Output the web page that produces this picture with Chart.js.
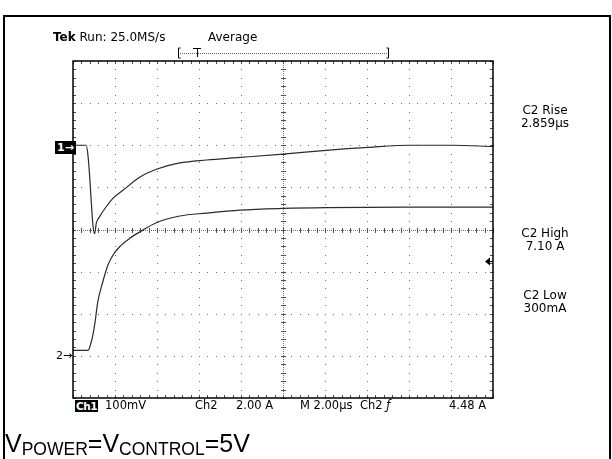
<!DOCTYPE html>
<html>
<head>
<meta charset="utf-8">
<script src="https://cdn.jsdelivr.net/npm/chart.js@4.4.0/dist/chart.umd.min.js"></script>
<style>
  body { margin: 0; background: #fff; }
  #wrap { position: relative; width: 612px; height: 459px; overflow: hidden; font-family: "DejaVu Sans", sans-serif; color: #000; }
  #scope { position: absolute; left: 0; top: 0; }
  .frame { position: absolute; left: 3px; top: 15px; width: 604px; height: 470px; border: 2px solid #000; }
  .t { position: absolute; white-space: nowrap; line-height: 1; font-size: 11.5px; }
  .meas { position: absolute; width: 72px; text-align: center; font-size: 12px; line-height: 13px; }
  .inv { background: #000; color: #fff; font-weight: bold; padding: 0 2px; }
  .caption { position: absolute; left: 5px; top: 429px; font-family: "Liberation Sans", Arial, sans-serif; font-size: 25px; white-space: nowrap; }
  .caption sub { font-size: 17.5px; vertical-align: -3px; }
</style>
</head>
<body>
<div id="wrap">
  <div class="frame"></div>
  <canvas id="scope" width="612" height="459"></canvas>

  <div class="t" style="left:53px;top:31px;font-size:12px;"><b>Tek</b> Run: 25.0MS/s</div>
  <div class="t" style="left:208px;top:31px;font-size:12px;">Average</div>

  <div class="t inv" style="left:55px;top:141px;font-size:11px;padding:1px 2px;">1&#8594;</div>
  <div class="t" style="left:56px;top:350px;font-size:11px;">2&#8594;</div>

  <div class="meas" style="left:509px;top:104px;">C2 Rise<br>2.859&micro;s</div>
  <div class="meas" style="left:509px;top:227px;">C2 High<br>7.10 A</div>
  <div class="meas" style="left:509px;top:289px;">C2 Low<br>300mA</div>

  <div class="t inv" style="left:75px;top:400px;font-size:10.5px;padding:1px 1px 0 1px;letter-spacing:-0.5px;">Ch1</div>
  <div class="t" style="left:105px;top:400px;">100mV</div>
  <div class="t" style="left:195px;top:400px;">Ch2</div>
  <div class="t" style="left:236px;top:400px;">2.00 A</div>
  <div class="t" style="left:300px;top:400px;">M 2.00&micro;s</div>
  <div class="t" style="left:360px;top:400px;">Ch2 <i>&#402;</i></div>
  <div class="t" style="left:449px;top:400px;">4.48 A</div>

  <div class="caption">V<sub>POWER</sub>=V<sub>CONTROL</sub>=5V</div>
</div>

<script>
// Time base 2.00µs/div, 10 divisions
const ch1Time = [0, 0.63, 0.71, 0.79, 0.87, 0.95, 1.03, 1.11, 1.26, 1.58, 1.90, 2.38, 3.17, 3.97, 5.08, 6.36, 7.95, 10.0, 12.05, 14.06, 16.07, 18.06, 20];
// Ch1 in mV relative to its marker (100mV/div)
const ch1mV = [0, 0, -23, -71, -134, -190, -210, -185, -170, -146, -126, -107, -76, -57, -42, -35, -29, -21, -12, -5, 0, 0, -3];

const ch2Time = [0, 0.71, 0.87, 1.03, 1.18, 1.42, 1.66, 1.90, 2.22, 2.70, 3.17, 3.97, 5.08, 6.36, 7.95, 10.0, 12.05, 16.07, 20];
// Ch2 current in A (2.00 A/div)
const ch2Amp = [0.26, 0.26, 0.66, 1.46, 2.56, 3.52, 4.30, 4.78, 5.18, 5.58, 5.88, 6.32, 6.64, 6.78, 6.92, 7.00, 7.04, 7.06, 7.06];

const triggerLevel = 4.48; // A

function toPoints(xs, ys) {
  return xs.map((v, i) => ({ x: v, y: ys[i] }));
}

// Draws the scope graticule, frame, trigger arrow and record bracket
const graticule = {
  id: 'graticule',
  beforeDatasetsDraw(chart) {
    const { ctx, chartArea: a, scales } = chart;
    const x = scales.x, y = scales.y;
    const xMinor = [], yMinor = [];
    for (let i = 0; i <= 50; i++) xMinor.push(Math.round(x.getPixelForValue(i * 0.4)));
    for (let j = 0; j <= 40; j++) yMinor.push(Math.round(y.getPixelForValue(-4 + j * 0.2)));

    ctx.save();
    ctx.fillStyle = '#707070';
    for (let i = 1; i < 10; i++) {
      if (i === 5) continue;
      const px = Math.round(x.getPixelForValue(i * 2));
      yMinor.forEach(py => ctx.fillRect(px, py, 1, 1));
    }
    for (let j = 1; j < 8; j++) {
      if (j === 4) continue;
      const py = Math.round(y.getPixelForValue(-4 + j));
      xMinor.forEach(px => ctx.fillRect(px, py, 1, 1));
    }

    // centre cross
    const cx = Math.round(x.getPixelForValue(10));
    const cy = Math.round(y.getPixelForValue(0));
    for (let py = a.top; py < a.bottom; py += 2) ctx.fillRect(cx, py, 1, 1);
    for (let px = a.left; px < a.right; px += 2) ctx.fillRect(px, cy, 1, 1);
    ctx.fillStyle = '#505050';
    yMinor.forEach(py => ctx.fillRect(cx - 2, py, 5, 1));
    xMinor.forEach(px => ctx.fillRect(px, cy - 2, 1, 5));

    // edge ticks
    xMinor.forEach(px => {
      ctx.fillRect(px, a.top, 1, 3);
      ctx.fillRect(px, a.bottom - 3, 1, 3);
    });
    yMinor.forEach(py => {
      ctx.fillRect(a.left, py, 3, 1);
      ctx.fillRect(a.right - 3, py, 3, 1);
    });
    ctx.restore();
  },
  afterDraw(chart) {
    const { ctx, chartArea: a, scales } = chart;
    ctx.save();
    ctx.strokeStyle = '#000';
    ctx.lineWidth = 1.5;
    ctx.strokeRect(a.left, a.top, a.right - a.left, a.bottom - a.top);

    // trigger level arrow
    const ty = scales.yCh2.getPixelForValue(triggerLevel);
    ctx.fillStyle = '#000';
    ctx.beginPath();
    ctx.moveTo(a.right - 8, ty);
    ctx.lineTo(a.right - 3, ty - 4);
    ctx.lineTo(a.right - 3, ty + 4);
    ctx.closePath();
    ctx.fill();
    ctx.fillRect(a.right - 3, ty - 0.5, 3, 1);

    // record view bracket
    ctx.lineWidth = 1;
    ctx.strokeStyle = '#000';
    ctx.beginPath();
    ctx.moveTo(180.5, 48); ctx.lineTo(178.5, 48); ctx.lineTo(178.5, 58); ctx.lineTo(180.5, 58);
    ctx.moveTo(386.5, 48); ctx.lineTo(388.5, 48); ctx.lineTo(388.5, 58); ctx.lineTo(386.5, 58);
    ctx.moveTo(193, 48.5); ctx.lineTo(201, 48.5);
    ctx.moveTo(197.5, 48); ctx.lineTo(197.5, 57);
    ctx.stroke();
    ctx.fillStyle = '#666';
    for (let px = 180; px < 387; px += 2) ctx.fillRect(px, 53, 1, 1);
    ctx.restore();
  }
};

new Chart(document.getElementById('scope'), {
  type: 'scatter',
  data: {
    datasets: [
      {
        label: 'Ch1',
        data: toPoints(ch1Time, ch1mV),
        yAxisID: 'yCh1',
        showLine: true,
        borderColor: '#2b2b2b',
        borderWidth: 1.2,
        pointRadius: 0,
        cubicInterpolationMode: 'monotone'
      },
      {
        label: 'Ch2',
        data: toPoints(ch2Time, ch2Amp),
        yAxisID: 'yCh2',
        showLine: true,
        borderColor: '#2b2b2b',
        borderWidth: 1.2,
        pointRadius: 0,
        cubicInterpolationMode: 'monotone'
      }
    ]
  },
  options: {
    responsive: false,
    animation: false,
    layout: { padding: { left: 73, top: 61, right: 119, bottom: 61 } },
    plugins: { legend: { display: false }, tooltip: { enabled: false } },
    scales: {
      x: { type: 'linear', min: 0, max: 20, display: false },
      y: { type: 'linear', min: -4, max: 4, display: false },
      yCh1: { type: 'linear', min: -600, max: 200, display: false },
      yCh2: { type: 'linear', min: -2, max: 14, display: false }
    }
  },
  plugins: [graticule]
});
</script>
</body>
</html>
